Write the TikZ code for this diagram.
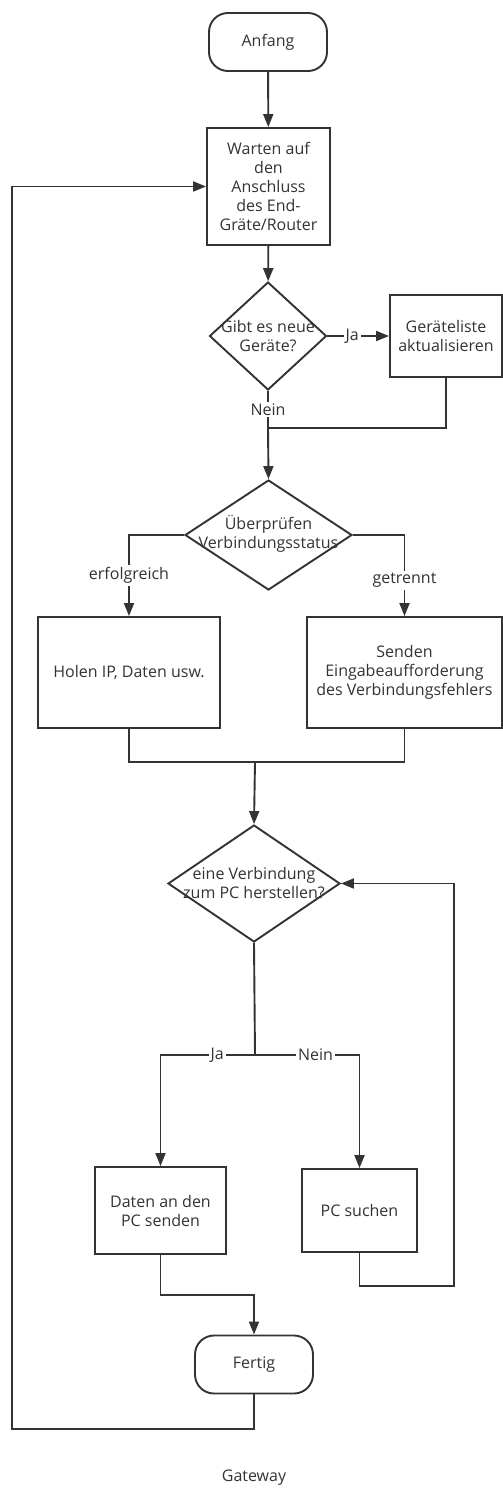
\documentclass[tikz,border=0pt]{standalone}
\usepackage{fontspec}
\setmainfont{Open Sans}
\usetikzlibrary{arrows.meta,shapes.geometric}
\definecolor{ink}{HTML}{333333}
\begin{document}
\begin{tikzpicture}[x=1pt,y=-1pt,
  line width=1.9pt, draw=ink, text=ink,
  font=\fontsize{16}{19}\selectfont,
  every node/.style={inner sep=0pt, align=center},
  arr/.style={-{Triangle[length=13pt,width=10pt]}},
  terminal/.style={draw, rounded corners=19pt, minimum width=118pt, minimum height=58pt},
  procbox/.style={draw, minimum width=#1},
  lbl/.style={fill=white, inner sep=2pt}]
\useasboundingbox (0,0) rectangle (503,1488);

% nodes
\node[terminal] (a) at (268,42) {Anfang};
\node[procbox=123pt, minimum height=117pt] (w) at (268.5,186.5)
  {Warten auf\\den\\Anschluss\\des End-\\Gräte/Router};
\node[draw, diamond, minimum width=117pt, minimum height=108pt, aspect=1.08] (d1) at (268,336) {};
\node at (d1.center) {Gibt es neue\\Geräte?};
\node[procbox=112pt, minimum height=82pt] (g) at (446,336) {Geräteliste\\aktualisieren};
\node[draw, diamond, minimum width=167pt, minimum height=110pt, aspect=1.52] (d2) at (268.5,535) {};
\node at ([yshift=1pt]d2.center) {Überprüfen\\Verbindungsstatus};
\node[procbox=182pt, minimum height=111pt] (h) at (129,672.5) {Holen IP, Daten usw.};
\node[procbox=195pt, minimum height=111pt] (s) at (404.5,672.5)
  {Senden\\Eingabeaufforderung\\des Verbindungsfehlers};
\node[draw, diamond, minimum width=172pt, minimum height=117pt, aspect=1.47] (d3) at (254,883.5) {};
\node at (d3.center) {eine Verbindung\\zum PC herstellen?};
\node[procbox=131pt, minimum height=87pt] (dt) at (160.5,1210.5) {Daten an den\\PC senden};
\node[procbox=115pt, minimum height=83pt] (p) at (359.5,1210.5) {PC suchen};
\node[terminal] (f) at (254,1364.5) {Fertig};
\node (cap) at (254,1478) {Gateway};

% junction points
\coordinate (j1) at (268,428);
\coordinate (j2) at (255,762);
\coordinate (j3) at (255,1055);
\coordinate (j4) at (254,1295);
\coordinate (r1) at (454,1286);
\coordinate (l1) at (12,1429);

% connectors
\draw[arr] (a) -- (w);
\draw[arr] (w) -- (d1);
\draw[arr] (d1.east) -- node[lbl, pos=0.4]{Ja} (g.west);
\draw (d1.south) -- node[lbl, pos=0.5]{Nein} (j1);
\draw (g.south) |- (j1);
\draw[arr] (j1) -- (d2.north);
\draw[arr] (d2.west) -| node[lbl, pos=0.75]{erfolgreich} (h.north);
\draw[arr] (d2.east) -| node[lbl, pos=0.78]{getrennt} (s.north);
\draw (h.south) |- (j2) -| (s.south);
\draw[arr] (j2) -- (d3.north);
\draw (d3.south) -- (j3);
\draw[arr] (j3) -| node[lbl, pos=0.2]{Ja} (dt.north);
\draw[arr] (j3) -| node[lbl, pos=0.29]{Nein} (p.north);
\draw[arr] (p.south) |- (r1) |- (d3.east);
\draw[arr] (dt.south) |- (j4) -- (f.north);
\draw[arr] (f.south) |- (l1) |- (w.west);
\end{tikzpicture}
\end{document}
